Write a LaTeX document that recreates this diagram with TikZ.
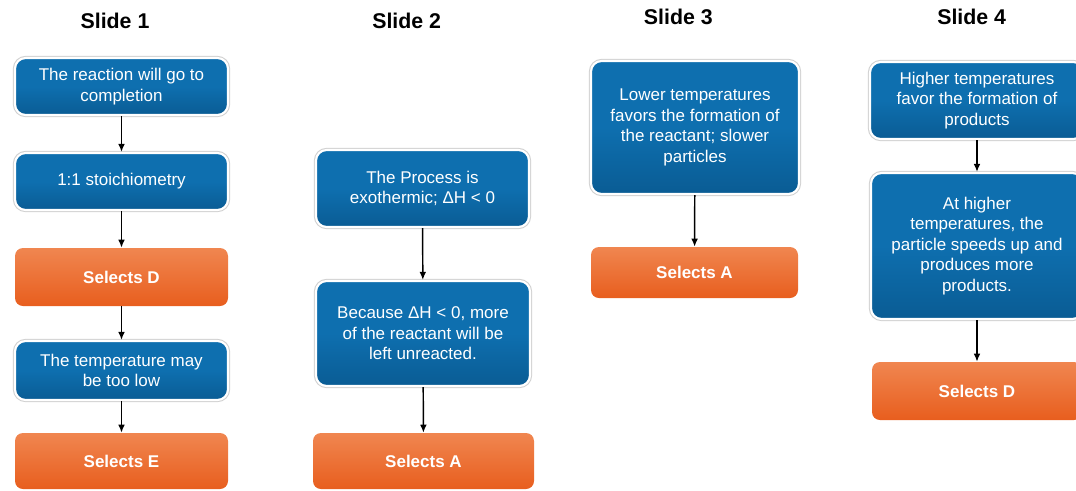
\documentclass[tikz,border=0pt]{standalone}
\usepackage{fontspec}
\setmainfont{Liberation Sans}
\usetikzlibrary{arrows.meta}
\definecolor{boxblue}{HTML}{0E6FAF}
\definecolor{boxbluedark}{HTML}{0A5C94}
\definecolor{ortop}{HTML}{F08650}
\definecolor{orbot}{HTML}{E85E1E}
\tikzset{
  bluebox/.style={rectangle, rounded corners=8pt, top color=boxblue, bottom color=boxbluedark, middle color=boxblue,
    draw=white, line width=1.6pt, preaction={draw=black!18, line width=3.2pt},
    text=white, align=center, font=\fontsize{12.75pt}{15.4pt}\selectfont, inner sep=0pt},
  orbox/.style={rectangle, rounded corners=6pt, top color=ortop, bottom color=orbot,
    text=white, align=center, font=\fontsize{12.75pt}{15.4pt}\selectfont\bfseries, inner sep=0pt},
  title/.style={font=\fontsize{16pt}{19pt}\selectfont\bfseries, text=black},
  conn/.style={-{Latex[length=6pt,width=5pt]}, line width=1.1pt, black}
}
\begin{document}
\begin{tikzpicture}[x=0.75pt,y=-0.75pt]
\useasboundingbox (0,0) rectangle (1076,490);
% titles
\node[title] (t1) at (115,20.5) {Slide 1};
\node[title] (t2) at (406.7,20.5) {Slide 2};
\node[title] (t3) at (678.3,17) {Slide 3};
\node[title] (t4) at (971.7,17) {Slide 4};
% slide 1
\node[bluebox, minimum width=159.75pt, minimum height=42.75pt] (a1) at (121.5,86.5) {The reaction will go to\\completion};
\node[bluebox, minimum width=159.75pt, minimum height=42.75pt] (a2) at (121.5,181.5) {1:1 stoichiometry};
\node[orbox, minimum width=159.75pt, minimum height=43.5pt] (a3) at (121.5,277) {Selects D};
\node[bluebox, minimum width=159.75pt, minimum height=44.25pt] (a4) at (121.5,370.5) {The temperature may\\be too low};
\node[orbox, minimum width=159.75pt, minimum height=42pt] (a5) at (121.5,461) {Selects E};
\draw[conn] (a1) -- (a2);
\draw[conn] (a2) -- (a3);
\draw[conn] (a3) -- (a4);
\draw[conn] (a4) -- (a5);
% slide 2
\node[bluebox, minimum width=159.75pt, minimum height=57.75pt] (b1) at (422.5,188.5) {The Process is\\exothermic; ΔH < 0};
\node[bluebox, minimum width=160.5pt, minimum height=78.75pt] (b2) at (423,333.5) {Because ΔH < 0, more\\of the reactant will be\\left unreacted.};
\node[orbox, minimum width=165.75pt, minimum height=42pt] (b3) at (423.5,461) {Selects A};
\draw[conn] (b1) -- (b2);
\draw[conn] (b2) -- (b3);
% slide 3
\node[bluebox, minimum width=156pt, minimum height=99.75pt] (c1) at (695,127.5) {Lower temperatures\\favors the formation of\\the reactant; slower\\particles};
\node[orbox, minimum width=155.25pt, minimum height=38.25pt] (c2) at (694.5,272.5) {Selects A};
\draw[conn] (c1) -- (c2);
% slide 4
\node[bluebox, minimum width=160.5pt, minimum height=57.75pt] (d1) at (977,100.5) {Higher temperatures\\favor the formation of\\products};
\node[bluebox, minimum width=159pt, minimum height=109.5pt] (d2) at (977,246) {At higher\\temperatures, the\\particle speeds up and\\produces more\\products.};
\node[orbox, minimum width=157.5pt, minimum height=43.5pt] (d3) at (977,391) {Selects D};
\draw[conn] (d1) -- (d2);
\draw[conn] (d2) -- (d3);
\end{tikzpicture}
\end{document}
